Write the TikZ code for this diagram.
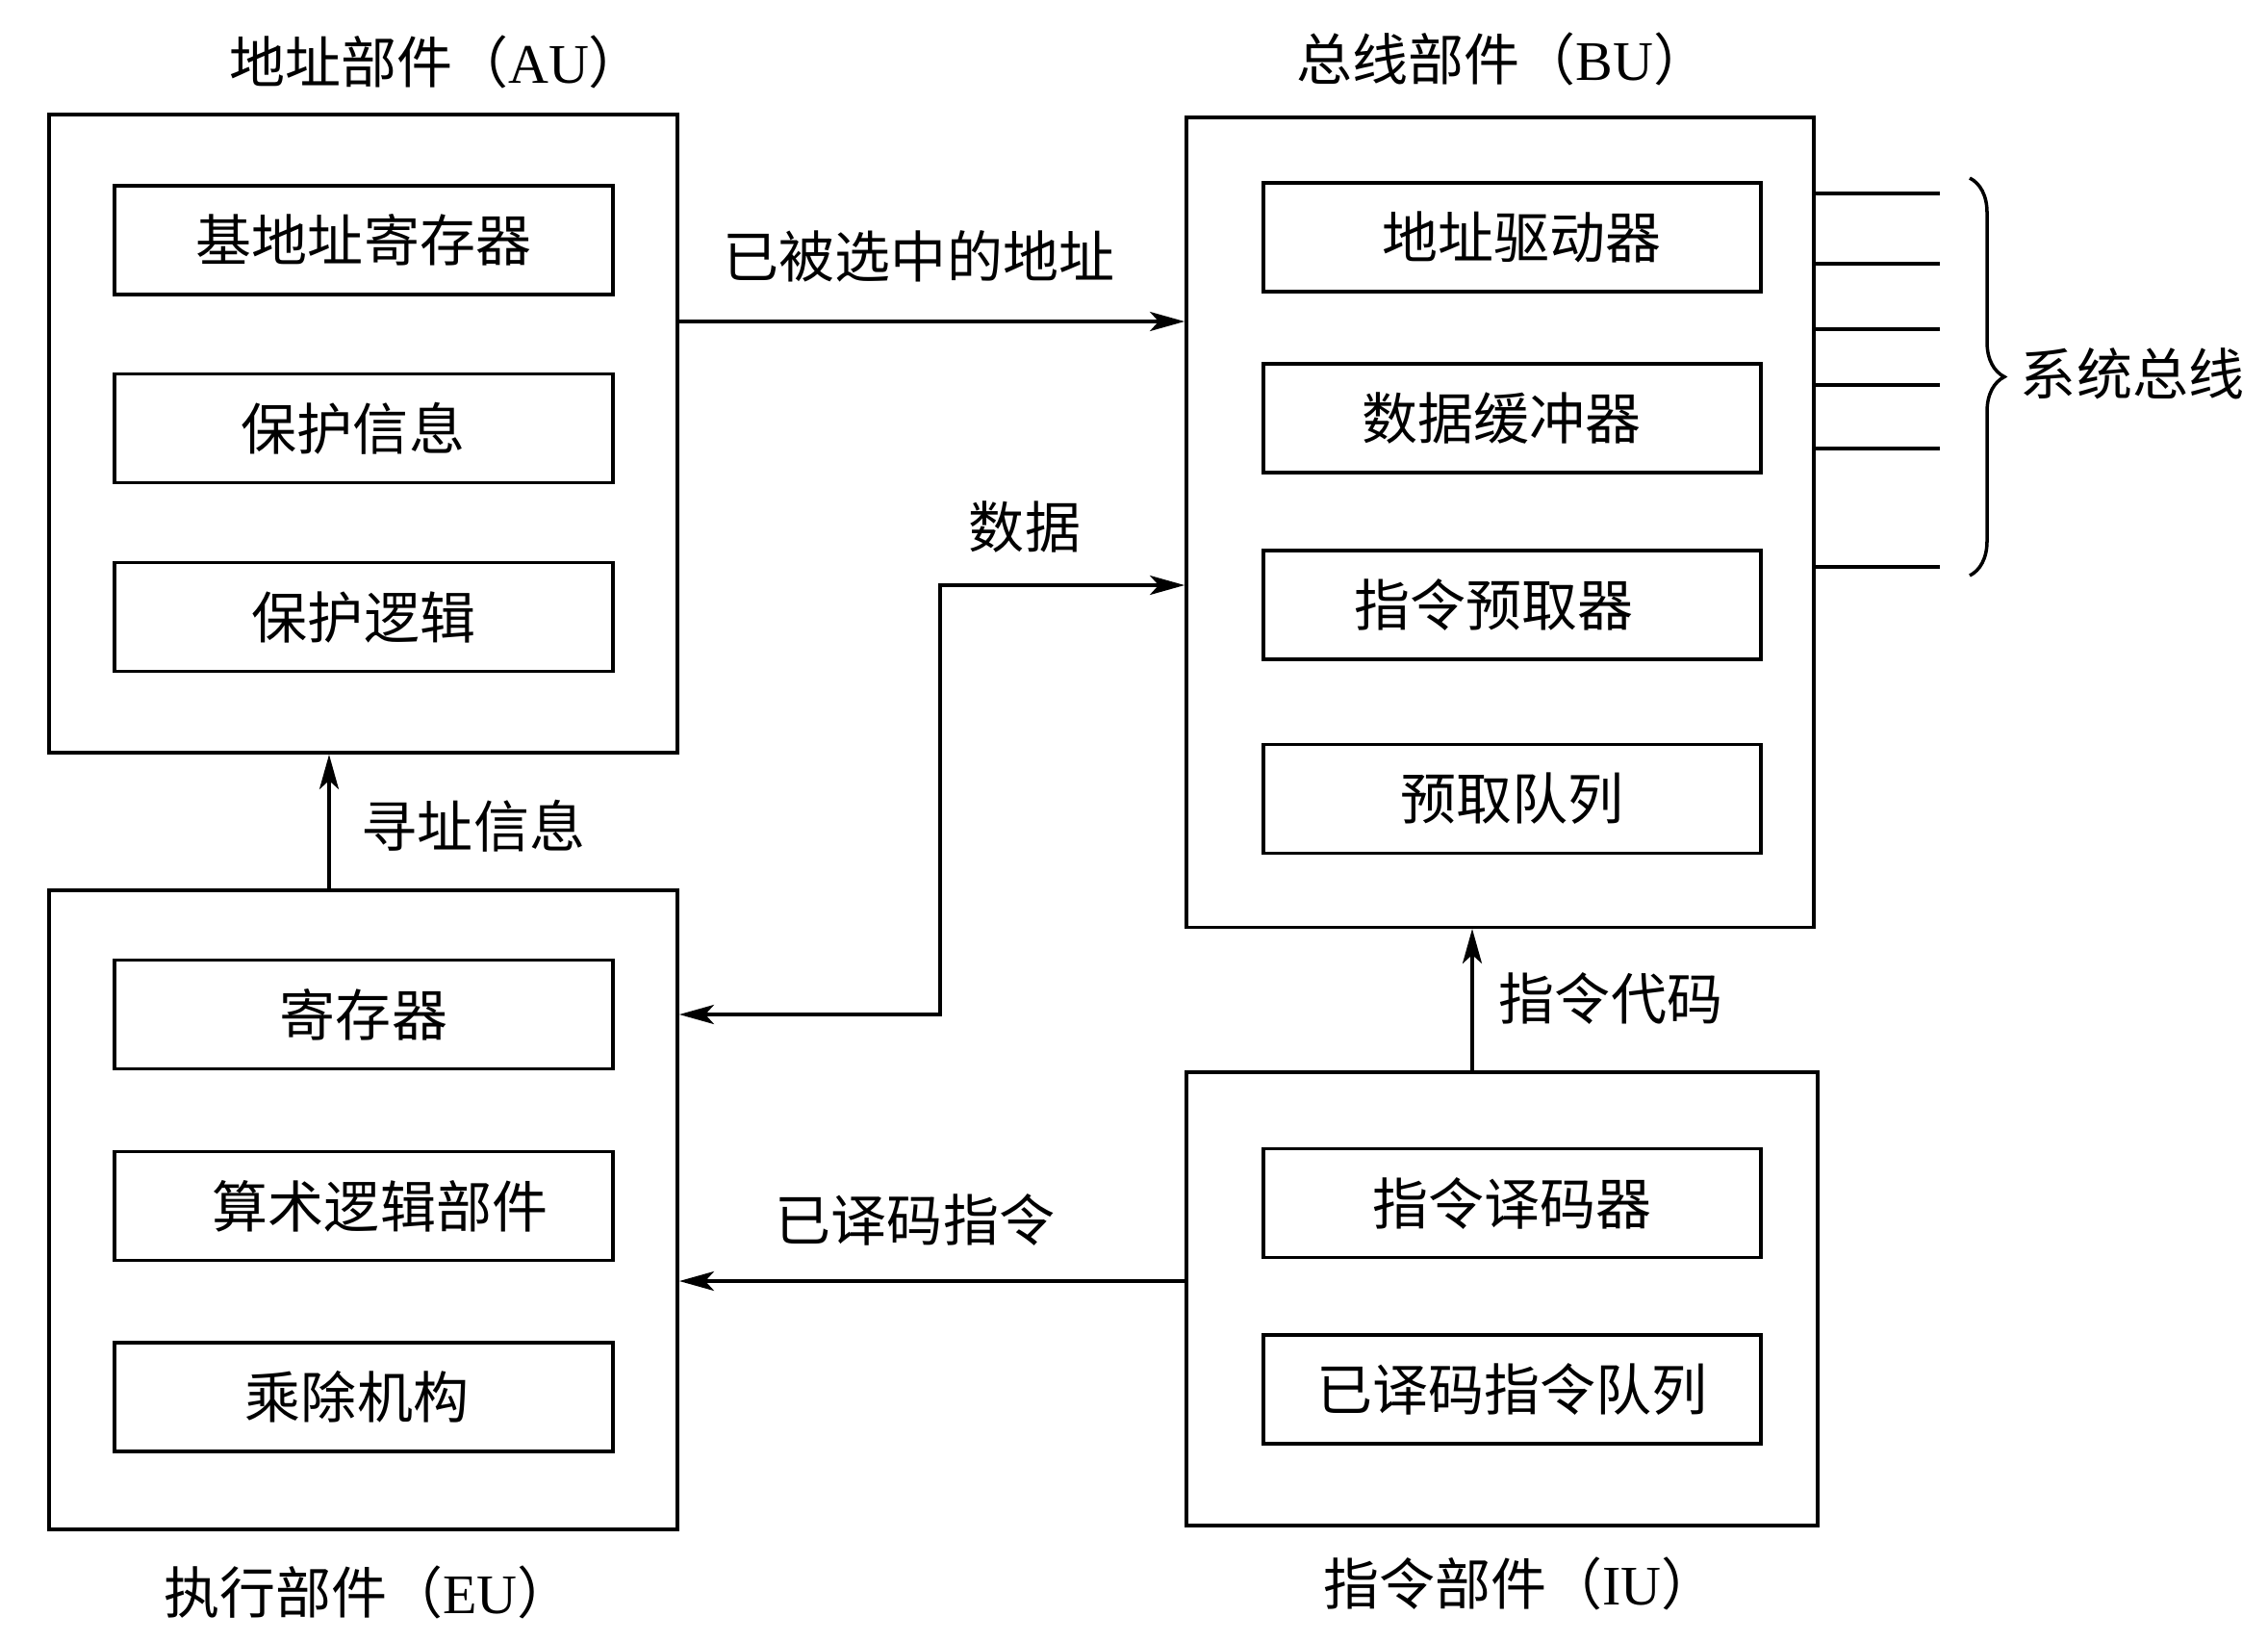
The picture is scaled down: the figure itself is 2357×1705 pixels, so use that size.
\documentclass[tikz,border=0pt]{standalone}
\usepackage{fontspec}
\setmainfont{Liberation Serif}
\newfontfamily\cjk{Noto Sans CJK SC}
\usetikzlibrary{arrows.meta,decorations.pathreplacing}
\begin{document}
\begin{tikzpicture}[x=0.01cm,y=-0.01cm,
  every node/.style={font=\cjk\fontsize{16.5pt}{20pt}\selectfont, inner sep=0pt},
  unitbox/.style={draw, line width=1pt, rectangle, inner sep=0pt},
  partbox/.style={draw, line width=1pt, rectangle, inner sep=0pt, minimum width=5.18cm, minimum height=1.13cm},
  tip/.tip={Stealth[length=0.36cm,width=0.2cm,inset=0.09cm]},
  arr/.style={line width=1pt, -tip},
  biarr/.style={line width=1pt, tip-tip},
  plainline/.style={line width=1pt}]

\useasboundingbox (0,0) rectangle (2357,1705);
\fill[white] (0,0) rectangle (2357,1705);

% outer units
\node[unitbox, minimum width=6.53cm, minimum height=6.63cm] (AU) at (377.5,450.5) {};
\node[unitbox, minimum width=6.52cm, minimum height=8.41cm] (BU) at (1559,542.5) {};
\node[unitbox, minimum width=6.53cm, minimum height=6.64cm] (EU) at (377.5,1257) {};
\node[unitbox, minimum width=6.56cm, minimum height=4.71cm] (IU) at (1561,1349.5) {};

% unit titles
\node (AUt) at (454,64) {地址部件（\textrm{AU}）};
\node (BUt) at (1562,61) {总线部件（\textrm{BU}）};
\node (EUt) at (383,1654) {执行部件（\textrm{EU}）};
\node (IUt) at (1580,1645) {指令部件（\textrm{IU}）};

% AU parts
\node[partbox] (au1) at (378,249.5) {基地址寄存器};
\node[partbox] (au2) at (378,445) {\hspace*{-0.22cm}保护信息};
\node[partbox] (au3) at (378,641) {保护逻辑};

% EU parts
\node[partbox] (eu1) at (378,1054) {寄存器};
\node[partbox] (eu2) at (378,1253) {\hspace*{0.34cm}算术逻辑部件};
\node[partbox] (eu3) at (378,1451.5) {\hspace*{-0.14cm}乘除机构};

% BU parts
\node[partbox, minimum width=5.17cm] (bu1) at (1571.5,246.5) {\hspace*{0.2cm}地址驱动器};
\node[partbox, minimum width=5.17cm] (bu2) at (1571.5,434.5) {\hspace*{-0.22cm}数据缓冲器};
\node[partbox, minimum width=5.17cm] (bu3) at (1571.5,628.5) {\hspace*{-0.38cm}指令预取器};
\node[partbox, minimum width=5.17cm] (bu4) at (1571.5,830) {预取队列};

% IU parts
\node[partbox, minimum width=5.17cm] (iu1) at (1571.5,1250) {指令译码器};
\node[partbox, minimum width=5.17cm] (iu2) at (1571.5,1443.5) {已译码指令队列};

% helper coordinates
\coordinate (yaddr) at (0,334);
\coordinate (ydata) at (0,608);
\coordinate (yreg) at (0,1054);
\coordinate (ydec) at (0,1331);
\coordinate (xdata) at (977,0);
\coordinate (xseek) at (342,0);
\coordinate (xcode) at (1530,0);

% connectors
\draw[arr] (AU.east |- yaddr) -- (BU.west |- yaddr);
\draw[biarr] (EU.east |- yreg) -| (xdata |- ydata) -- (BU.west |- ydata);
\draw[arr] (EU.north -| xseek) -- (AU.south -| xseek);
\draw[arr] (IU.north -| xcode) -- (BU.south -| xcode);
\draw[arr] (IU.west |- ydec) -- (EU.east |- ydec);

% connector labels
\node (laddr) at (955,266) {已被选中的地址};
\node (ldata) at (1065,547) {数据};
\node (lseek) at (492,858) {寻址信息};
\node (lcode) at (1674,1037) {指令代码};
\node (ldec) at (951,1267) {已译码指令};

% system bus lines
\foreach \y [count=\i] in {201,274,342,400,466,589} {
  \coordinate (busend\i) at (2016,\y);
  \draw[plainline] (BU.east |- busend\i) -- (busend\i);
}
\coordinate (bracetop) at (2047,185);
\coordinate (bracebot) at (2047,598);
\draw[plainline, decorate, decoration={brace, amplitude=0.36cm}] (bracetop) -- (bracebot);
\node (lbus) at (2216,388) {系统总线};
\end{tikzpicture}
\end{document}
